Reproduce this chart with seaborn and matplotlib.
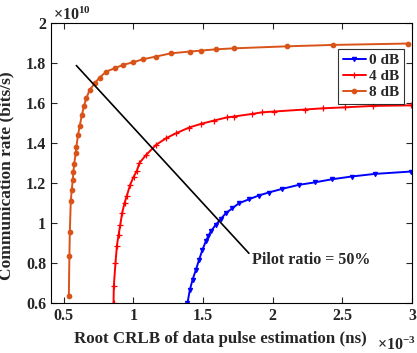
import numpy as np
import pandas as pd
import matplotlib
matplotlib.use("Agg")
import matplotlib.pyplot as plt
from matplotlib.ticker import FuncFormatter
import seaborn as sns

# curves (x in 1e-3 ns, rate in 1e10 bits/s)
x_0db = [1.388, 1.405, 1.424, 1.448, 1.471, 1.495, 1.519, 1.538, 1.555, 1.59, 1.626, 1.662,
         1.71, 1.757, 1.829, 1.90, 1.971, 2.067, 2.186, 2.305, 2.424, 2.567, 2.733, 2.995]
r_0db = [0.6, 0.665, 0.715, 0.765, 0.815, 0.865, 0.907, 0.935, 0.957, 0.99, 1.018, 1.048,
         1.073, 1.098, 1.118, 1.137, 1.152, 1.17, 1.19, 1.203, 1.218, 1.232, 1.245, 1.257]

x_4db = [0.857, 0.859, 0.871, 0.881, 0.893, 0.905, 0.919, 0.936, 0.952, 0.976, 1.002, 1.024,
         1.043, 1.091, 1.162, 1.233, 1.305, 1.40, 1.484, 1.579, 1.674, 1.72, 1.852, 1.924,
         2.007, 2.229, 2.36, 2.52, 2.72, 2.99]
r_4db = [0.6, 0.685, 0.80, 0.885, 0.94, 0.99, 1.05, 1.10, 1.135, 1.19, 1.232, 1.26,
         1.30, 1.34, 1.39, 1.423, 1.448, 1.477, 1.495, 1.512, 1.528, 1.532, 1.545, 1.553,
         1.557, 1.567, 1.573, 1.578, 1.585, 1.588]

x_8db = [0.536, 0.54, 0.543, 0.55, 0.557, 0.564, 0.569, 0.574, 0.586, 0.59, 0.602, 0.614,
         0.63, 0.645, 0.662, 0.686, 0.721, 0.757, 0.805, 0.864, 0.924, 0.995, 1.066, 1.162,
         1.269, 1.405, 1.488, 1.59, 1.72, 2.10, 2.43, 2.97]
r_8db = [0.635, 0.835, 0.955, 1.11, 1.165, 1.215, 1.255, 1.295, 1.35, 1.38, 1.44, 1.485,
         1.54, 1.585, 1.625, 1.665, 1.698, 1.727, 1.757, 1.773, 1.79, 1.803, 1.818, 1.832,
         1.848, 1.857, 1.862, 1.868, 1.873, 1.883, 1.89, 1.897]

snr_labels = ["0 dB", "4 dB", "8 dB"]
pilot_line_x = [0.59, 1.829]
pilot_line_r = [1.787, 0.848]

series = {"0 dB": (x_0db, r_0db), "4 dB": (x_4db, r_4db), "8 dB": (x_8db, r_8db)}
colors = {"0 dB": "#0000ff", "4 dB": "#ff0000", "8 dB": "#d95319"}
markers = {"0 dB": "v", "4 dB": "+", "8 dB": "o"}
msizes = {"0 dB": 3, "4 dB": 4.5, "8 dB": 3.2}

sns.set_style("ticks")
plt.rcParams["font.family"] = ["Liberation Serif", "DejaVu Serif"]
plt.rcParams["font.weight"] = "bold"
plt.rcParams["mathtext.fontset"] = "custom"
plt.rcParams["mathtext.rm"] = "Liberation Serif:bold"
plt.rcParams["mathtext.it"] = "Liberation Serif:bold"
plt.rcParams["mathtext.bf"] = "Liberation Serif:bold"

fig = plt.figure(figsize=(4.17, 3.53), dpi=100)
ax = fig.add_axes([0.122, 0.142, 0.866, 0.793])

for lab in snr_labels:
    xs, rs = series[lab]
    d = pd.DataFrame({"x": np.array(xs) * 1e-3, "r": np.array(rs) * 1e10})
    sns.lineplot(data=d, x="x", y="r", color=colors[lab], marker=markers[lab], label=lab,
                 sort=False, estimator=None, lw=1.4, markersize=msizes[lab],
                 markeredgewidth=0.9, markeredgecolor=colors[lab], ax=ax)

ax.plot(np.array(pilot_line_x) * 1e-3, np.array(pilot_line_r) * 1e10, color="black", lw=1.2)
ax.text(1.85e-3, 0.815e10, "Pilot ratio = 50%", fontsize=11.5, fontweight="bold", va="center")

ax.set_xlim(0.407e-3, 3.0e-3)
ax.set_ylim(0.6e10, 2.0e10)
ax.set_xticks(np.arange(0.5, 3.01, 0.5) * 1e-3)
ax.set_yticks(np.arange(0.6, 2.01, 0.2) * 1e10)
ax.xaxis.set_major_formatter(FuncFormatter(lambda v, _: f"{v * 1e3:g}"))
ax.yaxis.set_major_formatter(FuncFormatter(lambda v, _: f"{v / 1e10:g}"))
ax.tick_params(direction="in", top=True, right=True, labelsize=11.5, length=4, width=0.8)
for s in ax.spines.values():
    s.set_visible(True)
    s.set_linewidth(0.8)
    s.set_color("black")

# exponent labels, as MATLAB draws them
fig.text(53 / 417, 1 - 20 / 353, r"$\times 10^{10}$", fontsize=11.5, ha="left", va="baseline")
fig.text(377 / 417, 1 - 350 / 353, r"$\times 10^{-3}$", fontsize=11.5, ha="left", va="baseline")

ax.set_xlabel("Root CRLB of data pulse estimation (ns)", fontsize=12.2, fontweight="bold")
ax.xaxis.set_label_coords(0.468, -0.1)
ax.set_ylabel("Communication rate (bits/s)", fontsize=12.5, fontweight="bold")
ax.yaxis.set_label_coords(-0.1, 0.454)

leg = ax.legend(loc="upper right", bbox_to_anchor=(0.978, 0.907), borderaxespad=0,
                frameon=True, fancybox=False, edgecolor="black", handlelength=1.5,
                handletextpad=0.25, borderpad=0.3, labelspacing=0.15,
                prop={"weight": "bold", "size": 11})
leg.get_frame().set_linewidth(0.8)

fig.savefig("out.png", dpi=100)
